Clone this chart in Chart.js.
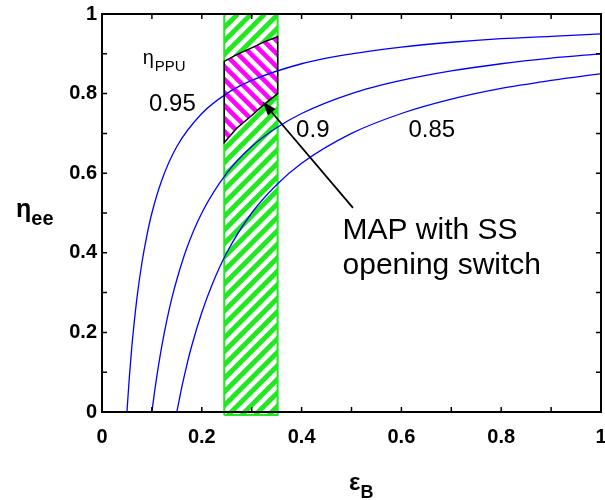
<!DOCTYPE html>
<html>
<head>
<meta charset="utf-8">
<script src="https://cdn.jsdelivr.net/npm/chart.js@4.4.1/dist/chart.umd.min.js"></script>
<style>
  html, body { margin: 0; padding: 0; background: #fff; }
  canvas { display: block; }
</style>
</head>
<body>
<canvas id="effChart" width="605" height="500"></canvas>
<script>
// values
const epsB_095 = [0.05, 0.055, 0.06, 0.07, 0.08, 0.09, 0.1, 0.12, 0.15, 0.2, 0.25, 0.3, 0.4, 0.5, 0.6, 0.7, 0.8, 0.9, 1.0];
const etaEE_095 = [0, 0.091, 0.167, 0.286, 0.375, 0.444, 0.5, 0.583, 0.667, 0.75, 0.8, 0.833, 0.875, 0.9, 0.917, 0.929, 0.938, 0.944, 0.95];

const epsB_090 = [0.1, 0.105, 0.11, 0.12, 0.13, 0.14, 0.15, 0.17, 0.2, 0.25, 0.3, 0.35, 0.4, 0.5, 0.6, 0.7, 0.8, 0.9, 1.0];
const etaEE_090 = [0, 0.048, 0.091, 0.167, 0.231, 0.286, 0.333, 0.412, 0.5, 0.6, 0.667, 0.714, 0.75, 0.8, 0.833, 0.857, 0.875, 0.889, 0.9];

const epsB_085 = [0.15, 0.155, 0.16, 0.17, 0.18, 0.2, 0.22, 0.25, 0.3, 0.35, 0.4, 0.5, 0.6, 0.7, 0.8, 0.9, 1.0];
const etaEE_085 = [0, 0.032, 0.063, 0.118, 0.167, 0.25, 0.318, 0.4, 0.5, 0.571, 0.625, 0.7, 0.75, 0.786, 0.813, 0.833, 0.85];

const curveNames = ['0.95', '0.9', '0.85'];

// SS opening switch window (green band) and MAP region (magenta)
const bandEps = [0.245, 0.352];
const mapEps = [0.245, 0.27, 0.3, 0.325, 0.352];
const mapTop = [0.881, 0.898, 0.915, 0.930, 0.943];
const mapBottom = [0.677, 0.713, 0.745, 0.773, 0.800];

const xTickLabels = ['0', '0.2', '0.4', '0.6', '0.8', '1'];
const yTickLabels = ['0', '0.2', '0.4', '0.6', '0.8', '1'];

const FONT = 'Arial, "Liberation Sans", sans-serif';

function pts(xs, ys) {
    return xs.map((x, i) => ({ x: x, y: ys[i] }));
}

// label every other tick (0.2 steps), minor ticks stay blank
function tickLabel(labels) {
    return function(v) {
        const i = Math.round(v * 10);
        return i % 2 === 0 ? labels[i / 2] : '';
    };
}

// diagonal stripes inside the current clip
function hatch(ctx, area, period, width, color, dir) {
    const h = area.bottom - area.top;
    ctx.strokeStyle = color;
    ctx.lineWidth = width;
    ctx.beginPath();
    for (let c = area.left - h - period; c < area.right + h + period; c += period) {
        if (dir > 0) { ctx.moveTo(c, area.bottom); ctx.lineTo(c + h, area.top); }
        else { ctx.moveTo(c, area.top); ctx.lineTo(c + h, area.bottom); }
    }
    ctx.stroke();
}

function mapPath(ctx, xs, ys) {
    ctx.beginPath();
    mapEps.forEach((e, i) => {
        const px = xs.getPixelForValue(e), py = ys.getPixelForValue(mapTop[i]);
        if (i === 0) ctx.moveTo(px, py); else ctx.lineTo(px, py);
    });
    for (let i = mapEps.length - 1; i >= 0; i--) {
        ctx.lineTo(xs.getPixelForValue(mapEps[i]), ys.getPixelForValue(mapBottom[i]));
    }
    ctx.closePath();
}

const decorPlugin = {
    id: 'decor',
    beforeDatasetsDraw(chart) {
        const ctx = chart.ctx, a = chart.chartArea;
        const xs = chart.scales.x, ys = chart.scales.y;
        const x0 = xs.getPixelForValue(bandEps[0]), x1 = xs.getPixelForValue(bandEps[1]);

        // green band
        ctx.save();
        ctx.beginPath();
        ctx.rect(x0, a.top, x1 - x0, a.bottom - a.top + 3);
        ctx.clip();
        ctx.fillStyle = '#fff';
        ctx.fillRect(x0, a.top, x1 - x0, a.bottom - a.top + 3);
        hatch(ctx, { left: x0, right: x1, top: a.top, bottom: a.bottom + 3 }, 13.5, 4.8, '#22e822', 1);
        ctx.restore();
        ctx.save();
        ctx.strokeStyle = '#22e822';
        ctx.lineWidth = 2;
        ctx.beginPath();
        ctx.moveTo(x0, a.top); ctx.lineTo(x0, a.bottom + 3);
        ctx.moveTo(x1, a.top); ctx.lineTo(x1, a.bottom + 3);
        ctx.lineTo(x0, a.bottom + 3);
        ctx.stroke();
        ctx.restore();

        // magenta MAP region
        ctx.save();
        mapPath(ctx, xs, ys);
        ctx.clip();
        ctx.fillStyle = '#fff';
        ctx.fillRect(a.left, a.top, a.right - a.left, a.bottom - a.top);
        hatch(ctx, a, 13, 4.6, '#ff00ff', -1);
        ctx.restore();
    },
    afterDatasetsDraw(chart) {
        const ctx = chart.ctx, a = chart.chartArea;
        const xs = chart.scales.x, ys = chart.scales.y;

        ctx.save();
        mapPath(ctx, xs, ys);
        ctx.strokeStyle = '#000';
        ctx.lineWidth = 1.5;
        ctx.stroke();

        // box and inward ticks on all four sides
        ctx.lineWidth = 2;
        ctx.strokeRect(a.left, a.top, a.right - a.left, a.bottom - a.top);
        ctx.lineWidth = 1.5;
        ctx.beginPath();
        xs.ticks.forEach(t => {
            const p = xs.getPixelForValue(t.value);
            ctx.moveTo(p, a.bottom); ctx.lineTo(p, a.bottom - 5);
            ctx.moveTo(p, a.top); ctx.lineTo(p, a.top + 5);
        });
        ys.ticks.forEach(t => {
            const p = ys.getPixelForValue(t.value);
            ctx.moveTo(a.left, p); ctx.lineTo(a.left + 5, p);
            ctx.moveTo(a.right, p); ctx.lineTo(a.right - 5, p);
        });
        ctx.stroke();

        // arrow pointing into the MAP region
        const tx = xs.getPixelForValue(0.503), ty = ys.getPixelForValue(0.513);
        const hx = xs.getPixelForValue(0.322), hy = ys.getPixelForValue(0.780);
        const ang = Math.atan2(hy - ty, hx - tx);
        const len = 14, half = 5;
        const bx = hx - len * Math.cos(ang), by = hy - len * Math.sin(ang);
        ctx.lineWidth = 1.8;
        ctx.beginPath();
        ctx.moveTo(tx, ty); ctx.lineTo(bx, by);
        ctx.stroke();
        ctx.fillStyle = '#000';
        ctx.beginPath();
        ctx.moveTo(hx, hy);
        ctx.lineTo(bx + half * Math.sin(ang), by - half * Math.cos(ang));
        ctx.lineTo(bx - half * Math.sin(ang), by + half * Math.cos(ang));
        ctx.closePath();
        ctx.fill();

        // annotations
        ctx.fillStyle = '#000';
        ctx.textAlign = 'left';
        ctx.textBaseline = 'alphabetic';
        ctx.font = '20px ' + FONT;
        let px = xs.getPixelForValue(0.0816), py = ys.getPixelForValue(0.875);
        ctx.fillText('η', px, py);
        const w = ctx.measureText('η').width;
        ctx.font = '15px ' + FONT;
        ctx.fillText('PPU', px + w + 1, py + 7);

        ctx.font = '24px ' + FONT;
        ctx.fillText(curveNames[0], xs.getPixelForValue(0.0944), ys.getPixelForValue(0.757));
        ctx.fillText(curveNames[1], xs.getPixelForValue(0.389), ys.getPixelForValue(0.691));
        ctx.fillText(curveNames[2], xs.getPixelForValue(0.614), ys.getPixelForValue(0.691));

        ctx.font = '30px ' + FONT;
        ctx.fillText('MAP with SS', xs.getPixelForValue(0.482), ys.getPixelForValue(0.434));
        ctx.fillText('opening switch', xs.getPixelForValue(0.482), ys.getPixelForValue(0.346));

        // axis titles with subscripts
        ctx.font = 'bold 25px ' + FONT;
        ctx.fillText('η', 16, 217);
        const we = ctx.measureText('η').width;
        ctx.font = 'bold 20px ' + FONT;
        ctx.fillText('ee', 16 + we, 225);

        ctx.font = 'bold 24px ' + FONT;
        ctx.fillText('ε', 349, 490);
        const wb = ctx.measureText('ε').width;
        ctx.font = 'bold 18px ' + FONT;
        ctx.fillText('B', 349 + wb, 498);
        ctx.restore();
    }
};

const curveStyle = {
    borderColor: '#0000ff',
    borderWidth: 1.3,
    pointRadius: 0,
    fill: false,
    cubicInterpolationMode: 'monotone'
};

new Chart(document.getElementById('effChart').getContext('2d'), {
    type: 'line',
    data: {
        datasets: [
            Object.assign({ label: curveNames[0], data: pts(epsB_095, etaEE_095) }, curveStyle),
            Object.assign({ label: curveNames[1], data: pts(epsB_090, etaEE_090) }, curveStyle),
            Object.assign({ label: curveNames[2], data: pts(epsB_085, etaEE_085) }, curveStyle)
        ]
    },
    options: {
        responsive: false,
        animation: false,
        devicePixelRatio: 1,
        layout: { padding: { left: 0, right: 4, top: 14, bottom: 0 } },
        plugins: {
            legend: { display: false },
            tooltip: { enabled: false }
        },
        scales: {
            x: {
                type: 'linear',
                min: 0,
                max: 1,
                grid: { display: false, drawTicks: false },
                border: { display: false },
                ticks: {
                    stepSize: 0.1,
                    autoSkip: false,
                    maxRotation: 0,
                    padding: 13,
                    color: '#000',
                    font: { family: FONT, size: 20, weight: 'bold' },
                    callback: tickLabel(xTickLabels)
                },
                afterFit: function(s) {
                    s.height = 88;
                    s.paddingLeft = 0;
                    s.paddingRight = 0;
                }
            },
            y: {
                type: 'linear',
                min: 0,
                max: 1,
                grid: { display: false, drawTicks: false },
                border: { display: false },
                ticks: {
                    stepSize: 0.1,
                    autoSkip: false,
                    padding: 5,
                    color: '#000',
                    font: { family: FONT, size: 20, weight: 'bold' },
                    callback: tickLabel(yTickLabels)
                },
                afterFit: function(s) {
                    s.width = 102;
                    s.paddingTop = 0;
                    s.paddingBottom = 0;
                }
            }
        }
    },
    plugins: [decorPlugin]
});
</script>
</body>
</html>
